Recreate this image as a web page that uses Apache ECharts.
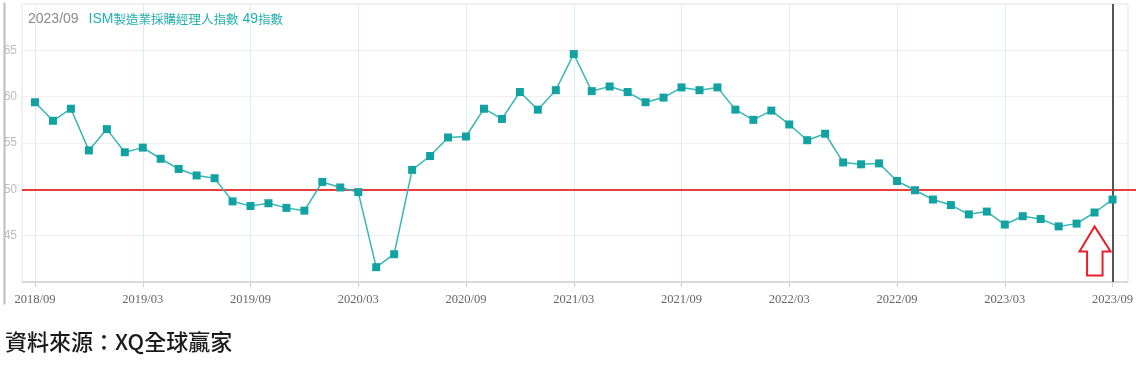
<!DOCTYPE html>
<html>
<head>
<meta charset="utf-8">
<script src="https://cdn.jsdelivr.net/npm/echarts@6/dist/echarts.min.js"></script>
<style>
html,body{margin:0;padding:0;background:#fff;}
#main{width:1136px;height:371px;}
</style>
</head>
<body>
<div id="main"></div>
<script>
const months = [
  '2018/09','2018/10','2018/11','2018/12',
  '2019/01','2019/02','2019/03','2019/04','2019/05','2019/06','2019/07','2019/08','2019/09','2019/10','2019/11','2019/12',
  '2020/01','2020/02','2020/03','2020/04','2020/05','2020/06','2020/07','2020/08','2020/09','2020/10','2020/11','2020/12',
  '2021/01','2021/02','2021/03','2021/04','2021/05','2021/06','2021/07','2021/08','2021/09','2021/10','2021/11','2021/12',
  '2022/01','2022/02','2022/03','2022/04','2022/05','2022/06','2022/07','2022/08','2022/09','2022/10','2022/11','2022/12',
  '2023/01','2023/02','2023/03','2023/04','2023/05','2023/06','2023/07','2023/08','2023/09'
];
const pmi = [
  59.4, 57.4, 58.7, 54.2,
  56.5, 54.0, 54.5, 53.3, 52.2, 51.5, 51.2, 48.7, 48.2, 48.5, 48.0, 47.7,
  50.8, 50.2, 49.7, 41.6, 43.0, 52.1, 53.6, 55.6, 55.7, 58.7, 57.6, 60.5,
  58.6, 60.7, 64.6, 60.6, 61.1, 60.5, 59.4, 59.9, 61.0, 60.7, 61.0, 58.6,
  57.5, 58.5, 57.0, 55.3, 56.0, 52.9, 52.7, 52.8, 50.9, 49.9, 48.9, 48.3,
  47.3, 47.6, 46.2, 47.1, 46.8, 46.0, 46.3, 47.5, 48.9
];
const yTicks = [45, 50, 55, 60, 65];
const threshold = 50;
const lastMonth = '2023/09';
const arrowTarget = ['2023/08', 46.0];

const chart = echarts.init(document.getElementById('main'));
const yMin = 40, yMax = 70, yStep = 5;
const narrow = '"Liberation Sans Narrow","Liberation Sans",sans-serif';

const baseGraphic = [
  {type: 'line', left: 2, top: 0, shape: {x1: 0, y1: 0, x2: 0, y2: 302}, style: {stroke: '#bdbdbd', lineWidth: 2}},
  {
    type: 'text', left: 5, top: 331,
    style: {text: '資料來源：XQ全球贏家', fontFamily: '"Noto Sans CJK TC",sans-serif', fontSize: 22, fontWeight: 500, fill: '#1a1a1a'}
  }
];

chart.setOption({
  animation: false,
  backgroundColor: '#fff',
  title: {
    left: 23, top: 5,
    text: '{a|2023/09}  {b|ISM}{c|製造業採購經理人指數}{b| 49}{c|指數}',
    textStyle: {
      fontWeight: 'normal',
      rich: {
        a: {fontFamily: narrow, fontSize: 14, fontWeight: 'normal', color: '#8a8a8a'},
        b: {fontFamily: narrow, fontSize: 14, fontWeight: 'normal', color: '#25b0b0'},
        c: {fontFamily: '"Noto Sans CJK TC",sans-serif', fontSize: 12.5, fontWeight: 'normal', color: '#25b0b0'}
      }
    }
  },
  grid: [
    {left: 22, right: 8, top: 4, bottom: 89, show: true, borderColor: '#e2e2e2', borderWidth: 1, backgroundColor: 'transparent'},
    {left: 35, right: 20, top: 4, bottom: 89},
    {left: 22, right: 0, top: 4, bottom: 89}
  ],
  xAxis: [
    {gridIndex: 0, type: 'value', min: 0, max: 1, show: false},
    {
      gridIndex: 1, type: 'category', data: months, boundaryGap: false,
      axisLine: {show: false},
      axisTick: {show: true, interval: 5, length: 5, lineStyle: {color: '#cfcfcf'}},
      axisLabel: {interval: 5, margin: 11, color: '#666', fontSize: 12.5, fontFamily: '"Liberation Serif","DejaVu Serif",serif'},
      splitLine: {show: true, interval: 5, lineStyle: {color: '#dcedf3', width: 1}}
    },
    {gridIndex: 2, type: 'value', min: 0, max: 1, show: false}
  ],
  yAxis: [
    {
      gridIndex: 0, type: 'value', min: yMin, max: yMax, interval: yStep,
      axisLine: {show: false}, axisTick: {show: false},
      axisLabel: {
        margin: 5, color: '#bdbdbd', fontSize: 12, fontFamily: narrow,
        formatter: v => yTicks.indexOf(v) >= 0 ? String(v) : ''
      },
      splitLine: {show: true, lineStyle: {color: '#f0f0f0', width: 1}}
    },
    {gridIndex: 1, type: 'value', min: yMin, max: yMax, interval: yStep, show: false, splitLine: {show: false}},
    {gridIndex: 2, type: 'value', min: yMin, max: yMax, interval: yStep, show: false, splitLine: {show: false}}
  ],
  series: [
    {
      type: 'line', xAxisIndex: 0, yAxisIndex: 0, data: [],
      markLine: {
        silent: true, symbol: 'none', label: {show: false},
        lineStyle: {color: '#d9d9d9', width: 2, type: 'solid'},
        data: [{yAxis: yMin}]
      }
    },
    {
      type: 'line', xAxisIndex: 2, yAxisIndex: 2, data: [],
      markLine: {
        silent: true, symbol: 'none', label: {show: false},
        lineStyle: {color: '#ee3b3b', width: 2, type: 'solid'},
        data: [{yAxis: threshold}]
      }
    },
    {
      name: 'ISM', type: 'line', xAxisIndex: 1, yAxisIndex: 1, data: pmi,
      symbol: 'rect', symbolSize: 8,
      lineStyle: {color: '#38b6b6', width: 1.5},
      itemStyle: {color: '#12a2a2'},
      markLine: {
        silent: true, symbol: 'none', label: {show: false},
        lineStyle: {color: '#555', width: 2, type: 'solid'},
        data: [{xAxis: lastMonth}]
      },
      z: 5
    }
  ],
  graphic: baseGraphic
});

// red outline arrow pointing at the Aug 2023 point
const tip = chart.convertToPixel({xAxisIndex: 1, yAxisIndex: 1}, arrowTarget);
chart.setOption({
  graphic: baseGraphic.concat([
    {
      type: 'polygon', z: 10,
      shape: {points: [
        [tip[0], tip[1]], [tip[0] + 16, tip[1] + 25], [tip[0] + 8, tip[1] + 25], [tip[0] + 8, tip[1] + 49],
        [tip[0] - 7.5, tip[1] + 49], [tip[0] - 7.5, tip[1] + 25], [tip[0] - 15, tip[1] + 25]
      ]},
      style: {fill: '#fff', stroke: '#e8202a', lineWidth: 2}
    }
  ])
});
</script>
</body>
</html>
